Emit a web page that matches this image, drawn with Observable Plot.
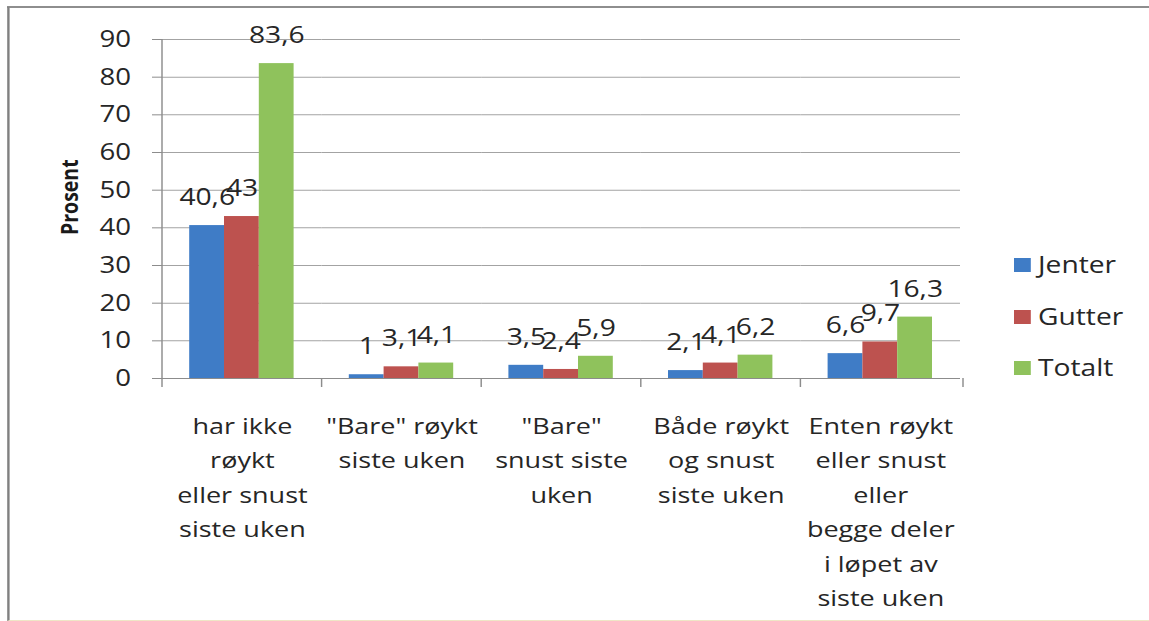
<!DOCTYPE html>
<html>
<head>
<meta charset="utf-8">
<script src="https://cdn.jsdelivr.net/npm/d3@7"></script>
<script src="https://cdn.jsdelivr.net/npm/@observablehq/plot@0.6"></script>
<style>
  html, body { margin: 0; padding: 0; background: #fff; overflow: hidden; }
  #wrap { position: relative; width: 957.5px; height: 621px; transform: scaleX(1.2); transform-origin: 0 0; font-family: "Open Sans", sans-serif; color: #262626; }
  #border { position: absolute; left: 5.7px; top: 6px; width: 1000px; height: 612px; border-left: 2px solid #808080; border-top: 2px solid #8e8e8e; border-bottom: 1px solid #efe6c6; }
  #chart { position: absolute; left: 0; top: 0; }
  .lg-sq { position: absolute; width: 14px; height: 14px; }
  .lg-tx { position: absolute; font-size: 23.5px; line-height: 30px; white-space: nowrap; }
</style>
</head>
<body>
<div id="wrap">
  <div id="border"></div>
  <div id="chart"></div>
  <div id="legend"></div>
</div>
<script>
const categories = [
  "har ikke røykt eller snust siste uken",
  "\"Bare\" røykt siste uken",
  "\"Bare\" snust siste uken",
  "Både røykt og snust siste uken",
  "Enten røykt eller snust eller begge deler i løpet av siste uken"
];
const categoryLabels = [
  "har ikke\nrøykt\neller snust\nsiste uken",
  "\"Bare\" røykt\nsiste uken",
  "\"Bare\"\nsnust siste\nuken",
  "Både røykt\nog snust\nsiste uken",
  "Enten røykt\neller snust\neller\nbegge deler\ni løpet av\nsiste uken"
];
const series = ["Jenter", "Gutter", "Totalt"];
const jenter = [40.6, 1, 3.5, 2.1, 6.6];
const gutter = [43, 3.1, 2.4, 4.1, 9.7];
const totalt = [83.6, 4.1, 5.9, 6.2, 16.3];
const yTicks = [0, 10, 20, 30, 40, 50, 60, 70, 80, 90];
const yLabel = "Prosent";
const colors = ["#3f7cc6", "#bd524f", "#8fc25c"];

const values = [jenter, gutter, totalt];
const data = categories.flatMap((c, i) => series.map((s, j) => ({category: c, series: s, value: values[j][i]})));
const fmt = v => String(v).replace(".", ",");

const S = 1.2;
const W = 1149 / S;
const mL = 160 / S, mR = W - 963 / S;

const chart = Plot.plot({
  width: W,
  height: 621,
  marginLeft: mL,
  marginRight: mR,
  marginTop: 39,
  marginBottom: 243,
  style: {fontFamily: "'Open Sans', sans-serif", color: "#262626", background: "transparent", overflow: "visible"},
  fx: {domain: categories, padding: 0, axis: null},
  x: {domain: series, paddingInner: 0, paddingOuter: 0.775, axis: null},
  y: {domain: [0, 90], axis: null},
  color: {domain: series, range: colors},
  marks: [
    Plot.gridY(yTicks, {stroke: "#a3a3a3", strokeOpacity: 1, strokeWidth: 1}),
    Plot.barY(data, {fx: "category", x: "series", y: "value", fill: "series"}),
    Plot.ruleY([0], {stroke: "#8c8c8c", strokeWidth: 1.2}),
    Plot.axisY(yTicks, {tickSize: 160 / S - 150 / S, tickPadding: 18, fontSize: 23, stroke: "#8c8c8c", fill: "#262626", label: null}),
    Plot.text(data, {fx: "category", x: "series", y: "value", text: d => fmt(d.value), dy: -28, fontSize: 23.5, fill: "#262626"}),
    Plot.text(categories, {fx: d => d, text: (d, i) => categoryLabels[i], frameAnchor: "bottom", lineAnchor: "top", dy: 31, lineHeight: 1.533, fontSize: 22.5, fill: "#262626"}),
    Plot.text([yLabel], {text: d => d, frameAnchor: "left", rotate: -90, dx: -(160 - 68) / S, dy: 26, fontWeight: "bold", fontSize: 19.5, fill: "#1a1a1a", facetAnchor: "left"})
  ]
});

document.getElementById("chart").appendChild(chart);

// Axis line and category boundary tick marks, from the scales
const svgEl = chart.tagName.toLowerCase() === "svg" ? chart : chart.querySelector("svg");
const fxS = chart.scale("fx"), yS = chart.scale("y");
const y0 = yS.apply(0), yTop = yS.apply(90);
const bounds = categories.map(c => fxS.apply(c)).concat([fxS.range[1]]);
const g = d3.select(svgEl).append("g").attr("stroke", "#8c8c8c").attr("stroke-width", 1.2);
g.append("line").attr("x1", bounds[0]).attr("x2", bounds[0]).attr("y1", yTop).attr("y2", y0 + 9);
g.selectAll("line.tk").data(bounds.slice(1)).join("line").attr("class", "tk")
  .attr("x1", d => d).attr("x2", d => d).attr("y1", y0).attr("y2", y0 + 9);

// Legend
const legend = document.getElementById("legend");
const legendCenters = [265, 317, 368];
series.forEach((s, i) => {
  const sq = document.createElement("div");
  sq.className = "lg-sq";
  sq.style.left = (1014 / S) + "px";
  sq.style.top = (legendCenters[i] - 7) + "px";
  sq.style.background = colors[i];
  legend.appendChild(sq);
  const tx = document.createElement("div");
  tx.className = "lg-tx";
  tx.style.left = (1038 / S) + "px";
  tx.style.top = (legendCenters[i] - 16) + "px";
  tx.textContent = s;
  legend.appendChild(tx);
});
</script>
</body>
</html>
